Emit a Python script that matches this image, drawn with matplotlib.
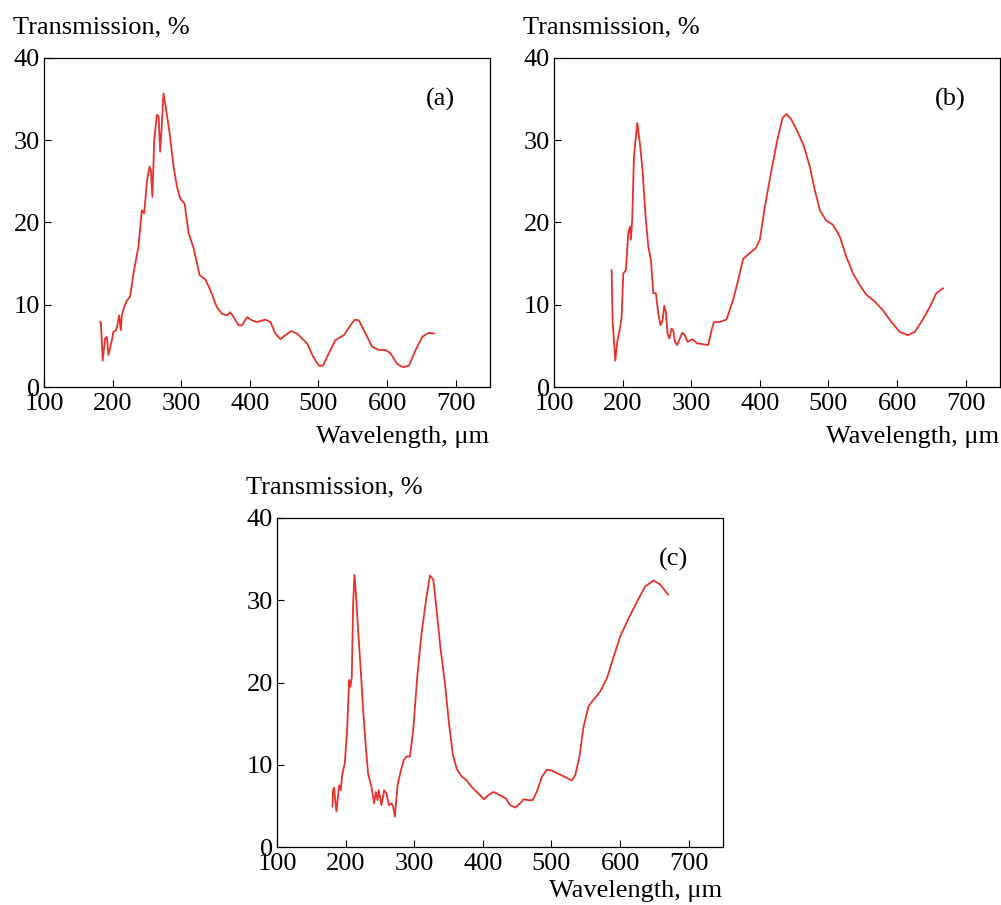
import matplotlib
matplotlib.use("Agg")
import matplotlib.pyplot as plt

plt.rcParams['font.family'] = ['Liberation Serif', 'DejaVu Serif']

# panel (a)
wl_a = [181.7, 183, 185.6, 189, 191.5, 194, 199, 201, 205, 207, 209.5, 212, 213.4, 216, 220,
        225.5, 230.4, 237.7, 242.6, 246, 250, 253.8, 255.7, 258, 260.6, 264.5, 267, 269.3,
        271.3, 274.2, 278, 283, 288.8, 293.7, 298.5, 304.9, 310.7, 318, 326.8, 335, 342.3,
        352, 359.4, 366.7, 371.5, 376.4, 383.7, 388.6, 395.9, 403, 410.5, 422.6, 430, 437.2,
        444.5, 451.8, 460, 468.8, 476.1, 483.4, 492.2, 500.5, 506.8, 515, 524.8, 537, 545.7,
        553, 558.9, 568.6, 578.3, 588, 597.8, 605, 614.8, 623.6, 631.9, 641.6, 651.3, 661, 668.4]
tr_a = [7.9, 7.8, 3.2, 5.9, 6.1, 3.9, 5.7, 6.7, 6.9, 7.5, 8.7, 6.9, 8.7, 9.5, 10.4,
        11.0, 13.8, 17.1, 21.5, 21.1, 25.0, 26.8, 26.4, 23.1, 30.0, 33.1, 32.9, 28.6,
        31.3, 35.7, 33.7, 30.9, 26.8, 24.4, 22.9, 22.3, 18.7, 16.9, 13.6, 13.1, 11.8,
        9.7, 8.9, 8.7, 9.1, 8.5, 7.5, 7.5, 8.5, 8.1, 7.9, 8.2, 7.9, 6.5,
        5.8, 6.3, 6.8, 6.5, 5.9, 5.3, 3.7, 2.6, 2.6, 4.1, 5.7, 6.3, 7.4,
        8.2, 8.1, 6.5, 4.9, 4.5, 4.5, 4.1, 2.8, 2.4, 2.6, 4.5, 6.1, 6.6, 6.5]

# panel (b)
wl_b = [184, 185.4, 189.3, 192.2, 196.1, 198.5, 201, 204.8, 208.2, 210.7, 212, 214, 216.5,
        221.3, 225.2, 229, 233.5, 237.4, 241.3, 244.7, 248.5, 252, 255.3, 258.2, 260.7, 263,
        265.5, 268, 271.3, 273.8, 276.2, 279.6, 283.5, 286.9, 290.8, 294.6, 302, 308.7,
        317.5, 324.7, 329.6, 333, 341.7, 351.4, 361.1, 368.4, 375.7, 384.4, 394.2, 400,
        407.3, 417, 425.7, 433, 438.8, 446.1, 455.8, 464.5, 472.8, 480, 487.4, 496.1, 506.8,
        516.5, 526.2, 535.9, 545.6, 555.3, 567.4, 579.6, 591.7, 603.8, 616, 625.7, 635.4,
        647.5, 657.2, 666.9]
tr_b = [14.2, 8.1, 3.2, 5.5, 7.1, 8.5, 13.8, 14.2, 18.7, 19.5, 17.9, 20.3, 28.0,
        32.1, 29.6, 26.4, 20.7, 17.1, 15.4, 11.4, 11.4, 8.9, 7.5, 8.1, 9.9, 9.1,
        6.5, 5.9, 7.1, 6.9, 5.5, 5.1, 5.9, 6.6, 6.3, 5.5, 5.8, 5.3,
        5.2, 5.1, 6.9, 7.9, 7.9, 8.2, 10.6, 13.0, 15.6, 16.2, 16.9, 17.9,
        21.9, 26.4, 30.1, 32.7, 33.2, 32.5, 30.9, 29.2, 26.8, 24.0, 21.5, 20.3, 19.7,
        18.3, 15.8, 13.8, 12.4, 11.2, 10.4, 9.3, 7.9, 6.7, 6.3, 6.7, 7.9,
        9.7, 11.4, 12.0]

# panel (c)
wl_c = [180.8, 181.7, 183.2, 184.6, 186.6, 189, 190.5, 192.9, 194.9, 198.8, 202.2, 205.1,
        207.1, 209, 211, 212.9, 214.9, 218.2, 222.1, 225.5, 229.4, 232.8, 237.7, 241.6, 244,
        246.5, 248.4, 252.3, 256.2, 259.6, 263, 266.9, 269.3, 271.8, 275.7, 280.5, 284.9,
        288.8, 293.7, 298.5, 304.4, 310.7, 318, 322.9, 327.8, 332.6, 338.5, 344.8, 350.7,
        356, 361.8, 369.1, 376.4, 383.7, 393.5, 401.7, 408, 415.3, 425, 433.8, 439.6, 447,
        454.2, 459.1, 466.4, 472.7, 478.6, 485.9, 493.2, 500.5, 510.2, 519.9, 529.7, 534.5,
        540.9, 546.7, 554, 561.3, 571, 580.8, 590.5, 600.2, 612.4, 624.6, 636.7, 648.9,
        658.6, 669.8]
tr_c = [4.9, 6.9, 7.2, 5.9, 4.3, 6.3, 7.5, 6.9, 8.7, 10.2, 14.2, 20.3,
        19.5, 20.7, 29.6, 33.1, 30.9, 26.4, 21.5, 16.7, 12.2, 8.9, 7.3, 5.3, 6.7,
        5.7, 6.9, 5.1, 6.9, 6.5, 5.1, 5.3, 4.9, 3.7, 7.5, 9.3, 10.6,
        11.0, 11.0, 14.2, 20.7, 26.0, 30.5, 33.0, 32.5, 28.8, 24.0, 19.9, 15.0,
        11.4, 9.5, 8.6, 8.1, 7.3, 6.5, 5.8, 6.3, 6.7, 6.3, 5.9, 5.1, 4.8,
        5.3, 5.8, 5.7, 5.7, 6.7, 8.5, 9.4, 9.3, 8.9, 8.5, 8.1, 8.7,
        11.0, 14.6, 17.1, 17.9, 18.9, 20.5, 23.1, 25.6, 27.8, 29.8, 31.7, 32.4,
        31.9, 30.7]

panels = ['(a)', '(b)', '(c)']
x_ticks = [100, 200, 300, 400, 500, 600, 700]
y_ticks = [0, 10, 20, 30, 40]

W, H = 1001, 905
fig = plt.figure(figsize=(W / 100, H / 100), dpi=100)

# axes boxes in pixels: left, top, right, bottom
boxes = [(44, 58, 490, 387), (554, 58, 1000, 387), (277, 518, 723, 847)]
data = [(wl_a, tr_a), (wl_b, tr_b), (wl_c, tr_c)]
fs = 19

for (l, t, r, b), (wl, tr), lab in zip(boxes, data, panels):
    ax = fig.add_axes([l / W, 1 - b / H, (r - l) / W, (b - t) / H])
    ax.plot(wl, tr, color='#e8312b', lw=1.3)
    ax.set_xlim(100, 750)
    ax.set_ylim(0, 40)
    ax.set_xticks(x_ticks)
    ax.set_yticks(y_ticks)
    ax.tick_params(direction='in', length=5, width=0.8, labelsize=fs, pad=4.5)
    ax.tick_params(axis='y', pad=3)
    for s in ax.spines.values():
        s.set_linewidth(0.9)
    ax.text(678, 35, lab, fontsize=fs, ha='center', va='center')
    fig.text((l - 31) / W, 1 - (t - 31) / H, 'Transmission, %', fontsize=fs,
             ha='left', va='center')
    # bottom panel label kept just inside the figure edge
    dy = 50 if b < 800 else 44
    fig.text((r - 1) / W, 1 - (b + dy) / H, 'Wavelength, μm', fontsize=fs,
             ha='right', va='center')

fig.savefig('out.png', dpi=100)
